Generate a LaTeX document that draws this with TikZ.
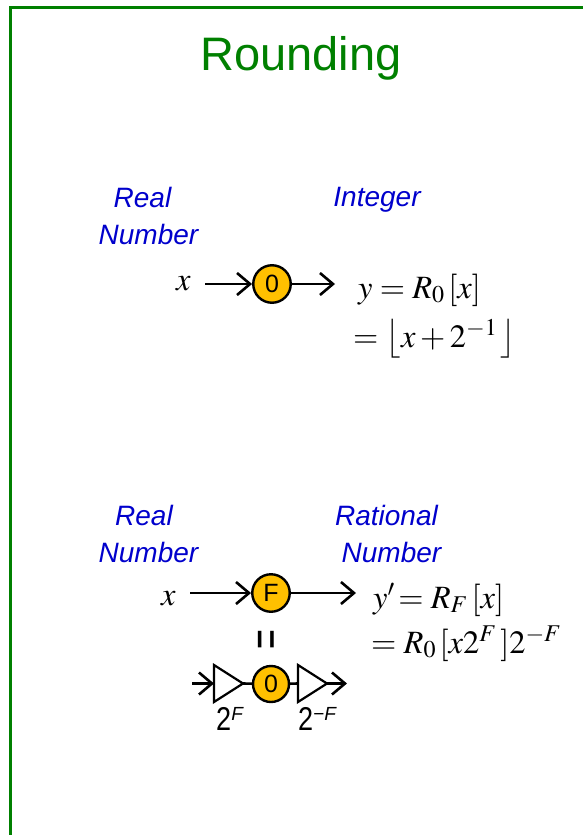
\documentclass[tikz,border=0pt]{standalone}
\usepackage{mathptmx}
\usepackage[no-math]{fontspec}
\setmainfont{Liberation Serif}
\setsansfont{Liberation Sans}
\usetikzlibrary{arrows.meta}
\definecolor{ttlgreen}{RGB}{0,128,0}
\definecolor{lblblue}{RGB}{0,0,204}
\definecolor{nodeorange}{RGB}{255,192,0}
\newcommand{\myfs}[1]{\fontsize{#1}{#1}\selectfont}
\begin{document}
\begin{tikzpicture}[x=1pt,y=-1pt,
  arr/.style={line width=2.6pt,-{Straight Barb[length=13pt,width=22pt,line width=2.6pt]}},
  conn/.style={line width=2.6pt},
  rnd/.style={circle,draw,line width=2.4pt,fill=nodeorange,minimum size=37.5pt,inner sep=0pt,font=\sffamily\myfs{25}},
  lbl/.style={font=\sffamily\itshape\myfs{28},text=lblblue,inner sep=0pt,anchor=base},
  eq/.style={font=\myfs{32.5},inner sep=0pt,anchor=base west},
  tri/.style={draw,line width=2.2pt,fill=white,line join=miter},
  gain/.style={font=\sffamily\myfs{31},inner sep=0pt,anchor=base west}
]
\useasboundingbox (0,0) rectangle (583,835);
\clip (0,0) rectangle (583,835);
\draw[ttlgreen,line width=2.8pt] (10.8,850) -- (10.8,7.5) -- (600,7.5);

\node[font=\sffamily\myfs{47},text=ttlgreen,anchor=base,inner sep=0pt] (title) at (301,70) {Rounding};

\node[lbl] (real1) at (142.5,207) {Real};
\node[lbl] (num1) at (148.5,244) {Number};
\node[lbl] (int1) at (377,206) {Integer};
\node[lbl] (real2) at (144,525) {Real};
\node[lbl] (num2) at (148.5,562) {Number};
\node[lbl] (rat2) at (386.5,525) {Rational};
\node[lbl] (num3) at (391.5,562) {Number};

% top row
\node[eq] (x1) at (176,290) {$x$};
\node[rnd] (c1) at (272,284) {0};
\coordinate (a1) at (205,284);
\coordinate (o1) at (335,284);
\draw[arr] (a1) -- (c1);
\draw[arr] (c1) -- (o1);
\node[eq] (eq1) at (358,298) {$y=R_0\mkern2mu[x]$};
\node[eq] (eq2) at (353,347) {$=\left\lfloor x+2^{-1}\,\right\rfloor$};

% bottom row
\node[eq] (x2) at (161,605) {$x$};
\node[rnd] (c2) at (271,593) {F};
\coordinate (a2) at (190,593);
\coordinate (o2) at (356,593);
\draw[arr] (a2) -- (c2);
\draw[arr] (c2) -- (o2);
\node[eq] (eq3) at (373,608) {$y'\!=R_F\mkern2mu[x]$};
\node[eq] (eq4) at (371,653) {$=R_0\mkern2mu[x2^F\,]2^{-F}$};

\node[font=\sffamily\myfs{34},rotate=90,inner sep=0pt] (veq) at (270,640) {\scalebox{1.0}[1.45]{=}};

% chain
\draw[tri] (214,665) -- (243,683.5) -- (214,702) -- cycle;
\draw[tri] (298,665) -- (327,683.5) -- (298,702) -- cycle;
\node[rnd,minimum size=36pt] (c3) at (271,684) {0};
\coordinate (a3) at (192,683.5);
\coordinate (t1in) at (214,683.5);
\coordinate (t1out) at (243,683.5);
\coordinate (t2in) at (298,683.5);
\coordinate (t2out) at (327,683.5);
\coordinate (o3) at (347,683.5);
\draw[arr] (a3) -- (t1in);
\draw[conn] (t1out) -- (c3);
\draw[conn] (c3) -- (t2in);
\draw[arr] (t2out) -- (o3);

\node[gain] (g1) at (216,730) {\scalebox{0.82}[1]{\myfs{33}2}\raisebox{10pt}{\myfs{19}\itshape F}};
\node[gain] (g2) at (298,730) {\scalebox{0.82}[1]{\myfs{33}2}\raisebox{10pt}{\myfs{19}−\itshape F}};
\end{tikzpicture}
\end{document}
